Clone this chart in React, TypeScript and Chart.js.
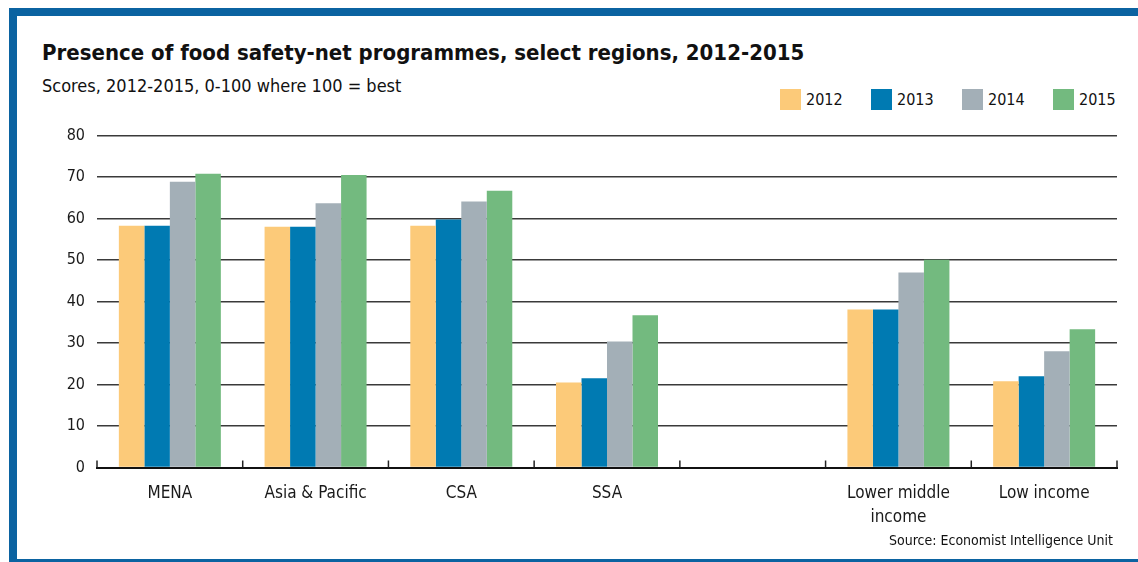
import React, { useEffect, useRef } from "react";
import { Chart, registerables } from "chart.js";

Chart.register(...registerables);

const categories: (string | string[])[] = [
  "MENA",
  "Asia & Pacific",
  "CSA",
  "SSA",
  "",
  ["Lower middle", "income"],
  "Low income",
];
const seriesNames = ["2012", "2013", "2014", "2015"];
const values2012 = [58.3, 58.0, 58.3, 20.5, null, 38.1, 20.8];
const values2013 = [58.3, 58.0, 59.8, 21.5, null, 38.1, 22.0];
const values2014 = [68.9, 63.7, 64.1, 30.4, null, 47.0, 28.0];
const values2015 = [70.8, 70.5, 66.7, 36.7, null, 50.1, 33.3];
const seriesColors = ["#fcca79", "#007ab2", "#a3afb7", "#73ba7f"];
const yTicks = [0, 10, 20, 30, 40, 50, 60, 70, 80];

const FONT = '"Liberation Sans Narrow", "DejaVu Sans Condensed", "Open Sans", sans-serif';
const BLUE = "#0b63a1";

const upTicksPlugin = {
  id: "upTicks",
  afterDraw(chart: any) {
    const xs = chart.scales.x;
    const n = chart.data.labels.length;
    const half = (xs.getPixelForTick(1) - xs.getPixelForTick(0)) / 2;
    const bottom = chart.chartArea.bottom;
    const ctx = chart.ctx;
    ctx.save();
    ctx.strokeStyle = "#222";
    ctx.lineWidth = 1.5;
    for (let i = 0; i <= n; i++) {
      const x = i < n ? xs.getPixelForTick(i) - half : xs.getPixelForTick(n - 1) + half;
      ctx.beginPath();
      ctx.moveTo(x, bottom);
      ctx.lineTo(x, bottom - 7);
      ctx.stroke();
    }
    ctx.restore();
  },
};

export default function App() {
  const canvasRef = useRef<HTMLCanvasElement | null>(null);

  useEffect(() => {
    if (!canvasRef.current) return;
    Chart.defaults.font.family = FONT;
    const seriesValues = [values2012, values2013, values2014, values2015];
    const chart = new Chart(canvasRef.current, {
      type: "bar",
      data: {
        labels: categories,
        datasets: seriesNames.map((name, i) => ({
          label: name,
          data: seriesValues[i],
          backgroundColor: seriesColors[i],
          borderWidth: 0,
          categoryPercentage: 0.7,
          barPercentage: 1.0,
        })),
      },
      options: {
        animation: false,
        responsive: false,
        maintainAspectRatio: false,
        layout: { padding: { top: 8.7, right: 21, left: 0, bottom: 0 } },
        plugins: {
          legend: { display: false },
          title: { display: false },
          tooltip: { enabled: false },
        },
        scales: {
          x: {
            grid: { display: false, drawTicks: false },
            border: { display: true, color: "#111", width: 2 },
            ticks: {
              color: "#1a1a1a",
              font: { size: 17, family: FONT, lineHeight: 1.4 },
              padding: 14,
              maxRotation: 0,
              autoSkip: false,
            },
            afterFit: (s: any) => {
              s.height = 90.5;
            },
          },
          y: {
            min: 0,
            max: 80,
            afterBuildTicks: (s: any) => {
              s.ticks = yTicks.map((v) => ({ value: v }));
            },
            grid: {
              drawTicks: false,
              color: (c: any) => (c.tick && c.tick.value === 0 ? "rgba(0,0,0,0)" : "#3a3a3a"),
              lineWidth: 1.4,
            },
            border: { display: false },
            ticks: {
              color: "#1a1a1a",
              font: { size: 16, family: FONT },
              padding: 12,
            },
            afterFit: (s: any) => {
              s.width = 79;
            },
          },
        },
      },
      plugins: [upTicksPlugin],
    });
    return () => chart.destroy();
  }, []);

  return (
    <div
      style={{
        position: "absolute",
        left: 0,
        top: 0,
        width: 1138,
        height: 562,
        background: "#fff",
        fontFamily: FONT,
        color: "#111",
        overflow: "hidden",
      }}
    >
      <div style={{ position: "absolute", left: 9, top: 8, width: 1129, height: 8, background: BLUE }} />
      <div style={{ position: "absolute", left: 9, top: 8, width: 8, height: 554, background: BLUE }} />
      <div style={{ position: "absolute", left: 9, top: 559, width: 1129, height: 3, background: BLUE }} />
      <div
        style={{
          position: "absolute",
          left: 42,
          top: 38,
          fontSize: 22,
          fontWeight: 700,
          lineHeight: "30px",
          whiteSpace: "nowrap",
        }}
      >
        Presence of food safety-net programmes, select regions, 2012-2015
      </div>
      <div
        style={{
          position: "absolute",
          left: 42,
          top: 74,
          fontSize: 18,
          lineHeight: "24px",
          whiteSpace: "nowrap",
        }}
      >
        Scores, 2012-2015, 0-100 where 100 = best
      </div>
      <div
        style={{
          position: "absolute",
          left: 780,
          top: 89,
          display: "flex",
          alignItems: "center",
        }}
      >
        {seriesNames.map((name, i) => (
          <div key={name} style={{ display: "flex", alignItems: "center", width: 91 }}>
            <div style={{ width: 21, height: 21, background: seriesColors[i], marginRight: 5 }} />
            <span style={{ fontSize: 16, lineHeight: "21px" }}>{name}</span>
          </div>
        ))}
      </div>
      <canvas
        ref={canvasRef}
        width={1120}
        height={444}
        style={{ position: "absolute", left: 18, top: 114, width: 1120, height: 444 }}
      />
      <div
        style={{
          position: "absolute",
          right: 25,
          top: 530,
          fontSize: 14,
          lineHeight: "20px",
          whiteSpace: "nowrap",
        }}
      >
        Source: Economist Intelligence Unit
      </div>
    </div>
  );
}
